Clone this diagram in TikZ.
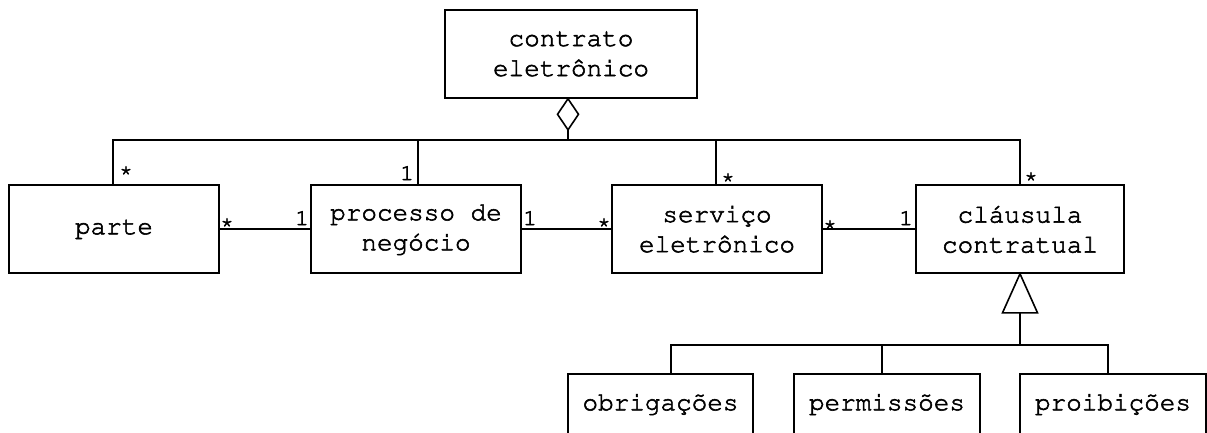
\documentclass[tikz,border=0pt]{standalone}
\usepackage[T1]{fontenc}
\usepackage{fontspec}
\newcommand\crfont{\fontencoding{T1}\fontfamily{pcr}\fontseries{m}\fontshape{n}\selectfont}
\newcommand\boldon{\special{pdf:code q 2 Tr 0.55 w}}
\newcommand\boldoff{\special{pdf:code Q}}
\begin{document}
\begin{tikzpicture}[x=1pt,y=-1pt,line width=1.6pt,
  cls/.style={draw, rectangle, inner sep=0pt, align=center, font=\crfont\fontsize{26}{30}\selectfont,
    execute at begin node=\boldon, execute at end node=\boldoff},
  wide/.style={minimum width=210pt, minimum height=88pt},
  sub/.style={minimum width=186pt, minimum height=60pt},
  mult/.style={font=\crfont\fontsize{22.5}{22.5}\selectfont, inner sep=0pt, anchor=base,
    execute at begin node=\boldon, execute at end node=\boldoff}]
\useasboundingbox[fill=white] (0,0) rectangle (1207,432);
% classes
\node[cls, minimum width=252pt, minimum height=88pt] (contrato) at (571,54) {contrato\\eletr\^onico};
\node[cls, wide] (parte) at (114,229) {parte};
\node[cls, wide] (processo) at (416,229) {processo de\\neg\'ocio};
\node[cls, wide] (servico) at (717,229) {servi\c{c}o\\eletr\^onico};
\node[cls, wide, minimum width=208pt] (clausula) at (1020,229) {cl\'ausula\\contratual};
\node[cls, sub, minimum width=185pt] (obrig) at (660.5,404) {obriga\c{c}\~oes};
\node[cls, sub] (perm) at (887,404) {permiss\~oes};
\node[cls, sub] (proib) at (1113,404) {proibi\c{c}\~oes};
% aggregation
\coordinate (dtop) at ([xshift=-3pt]contrato.south);
\draw[fill=white] (dtop) -- ++(10.5,15.5) -- ++(-10.5,15.5) coordinate (dbot) -- ++(-10.5,-15.5) -- cycle;
\draw (dbot) -- ++(0,10) coordinate (bar);
\draw ([xshift=-1pt]parte.north) |- (bar -| clausula.north) -- (clausula.north);
\draw ([xshift=2pt]processo.north) -- ([xshift=2pt]processo.north |- bar);
\draw ([xshift=-1pt]servico.north) -- ([xshift=-1pt]servico.north |- bar);
% associations
\draw (parte.east) -- (processo.west);
\draw (processo.east) -- (servico.west);
\draw (servico.east) -- (clausula.west);
% generalization
\draw[fill=white] (clausula.south) -- ++(17.5,39) coordinate (tr) -- ++(-35,0) -- cycle;
\path (clausula.south) ++(0,39) coordinate (tb);
\draw (tb) -- ++(0,32) coordinate (sbar);
\draw ([xshift=10.5pt]obrig.north) |- ([xshift=-5pt]proib.north |- sbar) -- ([xshift=-5pt]proib.north);
\draw ([xshift=-5pt]perm.north) -- ([xshift=-5pt]perm.north |- sbar);
% multiplicities
\node[mult] (m1) at (126,176) {*};
\node[mult] (m2) at (407,180) {1};
\node[mult] (m3) at (728,183) {*};
\node[mult] (m4) at (1031,182) {*};
\node[mult] (m5) at (227,228) {*};
\node[mult] (m6) at (302,225) {1};
\node[mult] (m7) at (530,225) {1};
\node[mult] (m8) at (604,228) {*};
\node[mult] (m9) at (830,230) {*};
\node[mult] (m10) at (906,225) {1};
\end{tikzpicture}
\end{document}
